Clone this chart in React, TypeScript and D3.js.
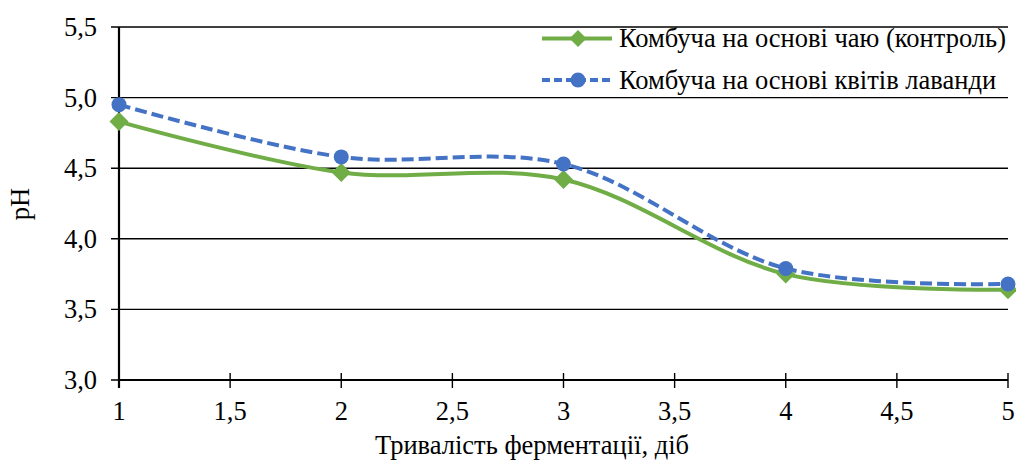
import React from "react";
import * as d3 from "d3";

const days = [1, 2, 3, 4, 5];
const controlPH = [4.83, 4.47, 4.42, 3.75, 3.64];
const lavenderPH = [4.95, 4.58, 4.53, 3.79, 3.68];
const xTicks = [1, 1.5, 2, 2.5, 3, 3.5, 4, 4.5, 5];
const yTicks = [3.0, 3.5, 4.0, 4.5, 5.0, 5.5];
const seriesNames = ["Комбуча на основі чаю (контроль)", "Комбуча на основі квітів лаванди"];
const xTitle = "Тривалість ферментації, діб";
const yTitle = "pH";

const W = 1016, H = 462;
const M = { left: 119, right: 1008, top: 27, bottom: 380 };
const GREEN = "#70AD47";
const BLUE = "#4472C4";
const FONT = "'Liberation Serif', 'Times New Roman', serif";
const FS = 26.5;

const fmt = (v: number, d: number) => v.toFixed(d).replace(".", ",");
const fmtX = (v: number) => (Number.isInteger(v) ? String(v) : fmt(v, 1));

export default function App() {
  const x = d3.scaleLinear().domain([1, 5]).range([M.left, M.right]);
  const y = d3.scaleLinear().domain([3, 5.5]).range([M.bottom, M.top]);
  const line = d3
    .line<number>()
    .x((_, i) => x(days[i]))
    .y((d) => y(d))
    .curve(d3.curveCatmullRom.alpha(0.5));

  const diamond = (cx: number, cy: number, r: number) =>
    `M${cx},${cy - r}L${cx + r},${cy}L${cx},${cy + r}L${cx - r},${cy}Z`;

  const textStyle = { fontFamily: FONT, fontSize: FS };

  return (
    <svg width={W} height={H} style={{ position: "absolute", left: 0, top: 0, background: "#fff" }}>
      {yTicks.map((t) => (
        <line key={"g" + t} x1={M.left - 8} x2={M.right} y1={y(t)} y2={y(t)} stroke="#000" strokeWidth={1.4} />
      ))}
      {yTicks.map((t) => (
        <text key={"yl" + t} x={M.left - 22} y={y(t) + 9} textAnchor="end" style={textStyle} fill="#000">
          {fmt(t, 1)}
        </text>
      ))}
      <line x1={M.left} x2={M.left} y1={M.top} y2={M.bottom + 8} stroke="#000" strokeWidth={2.2} />
      <line x1={M.left} x2={M.right} y1={M.bottom} y2={M.bottom} stroke="#000" strokeWidth={2.2} />
      {xTicks.map((t) => (
        <g key={"xt" + t}>
          <line x1={x(t)} x2={x(t)} y1={M.bottom - 7} y2={M.bottom + 8} stroke="#000" strokeWidth={1.4} />
          <text x={x(t)} y={M.bottom + 40} textAnchor="middle" style={textStyle} fill="#000">
            {fmtX(t)}
          </text>
        </g>
      ))}
      <text x={532} y={454} textAnchor="middle" style={textStyle} fill="#000">
        {xTitle}
      </text>
      <text transform={`translate(29,204) rotate(-90)`} textAnchor="middle" style={textStyle} fill="#000">
        {yTitle}
      </text>
      <path d={line(controlPH) || ""} fill="none" stroke={GREEN} strokeWidth={4} />
      <path d={line(lavenderPH) || ""} fill="none" stroke={BLUE} strokeWidth={4} strokeDasharray="12,5" />
      {controlPH.map((v, i) => (
        <path key={"d" + i} d={diamond(x(days[i]), y(v), 9.5)} fill={GREEN} />
      ))}
      {lavenderPH.map((v, i) => (
        <circle key={"c" + i} cx={x(days[i])} cy={y(v)} r={7.5} fill={BLUE} />
      ))}
      <g>
        <line x1={542} x2={612} y1={38.5} y2={38.5} stroke={GREEN} strokeWidth={4} />
        <path d={diamond(578, 38.5, 8.5)} fill={GREEN} />
        <text x={619} y={47} style={textStyle} fill="#000">{seriesNames[0]}</text>
        <line x1={542} x2={612} y1={80} y2={80} stroke={BLUE} strokeWidth={4} strokeDasharray="8,4" />
        <circle cx={578} cy={80} r={7.5} fill={BLUE} />
        <text x={619} y={88.5} style={textStyle} fill="#000">{seriesNames[1]}</text>
      </g>
    </svg>
  );
}
